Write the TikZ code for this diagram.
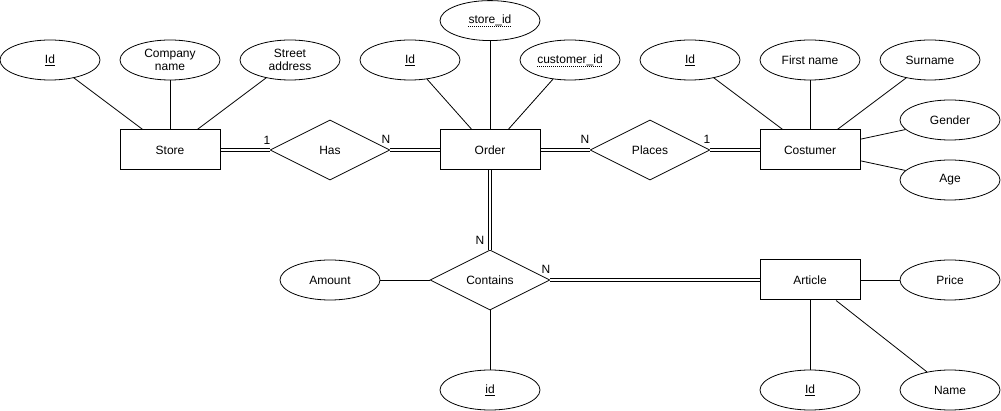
\documentclass[tikz,border=0pt]{standalone}
\usepackage{fontspec}
\setmainfont{Liberation Sans}
\usetikzlibrary{shapes.geometric}
\begin{document}
\begin{tikzpicture}[x=1pt,y=-1pt,
  font=\fontsize{12}{13.5}\selectfont,
  every node/.style={inner sep=0pt},
  ent/.style={draw, rectangle, line width=1pt, minimum width=100pt, minimum height=40pt},
  attr/.style={draw, ellipse, line width=0.8pt, minimum width=100pt, minimum height=40pt, align=center},
  rel/.style={draw, diamond, aspect=2, line width=0.8pt, minimum width=120pt, minimum height=60pt},
  card/.style={font=\fontsize{12}{13.5}\selectfont},
  link/.style={draw, line width=0.8pt},
  dotline/.style={draw, line width=0.8pt, dash pattern=on 1pt off 1pt},
  dlink/.style={draw, double, line width=0.9pt, double distance=2.3pt}]
\useasboundingbox[fill=white] (0,0) rectangle (1001,411);

% entities
\node[ent] (store) at (170,150) {Store};
\node[ent] (order) at (490,150) {Order};
\node[ent] (cust) at (810,150) {Costumer};
\node[ent] (art) at (810,280) {Article};

% relationships
\node[rel] (has) at (330,150) {Has};
\node[rel] (places) at (650,150) {Places};
\node[rel] (contains) at (490,280) {Contains};

% store attributes
\node[attr] (sid) at (50,60) {\underline{Id}};
\node[attr] (scomp) at (170,60) {Company\\name};
\node[attr] (sstreet) at (290,60) {Street\\address};

% order attributes
\node[attr] (oid) at (410,60) {\underline{Id}};
\node[attr] (ostore) at (490,20.6) {};
\node (ostoreT) at (490,20) {store\_id};
\node[attr] (ocust) at (570,60) {};
\node (ocustT) at (570,60) {customer\_id};
\path[dotline] ([yshift=-3pt]ostoreT.base west) -- ([yshift=-3pt]ostoreT.base east);
\path[dotline] ([yshift=-3pt]ocustT.base west) -- ([yshift=-3pt]ocustT.base east);

% customer attributes
\node[attr] (cid) at (690,60) {\underline{Id}};
\node[attr] (cfirst) at (810,60) {First name};
\node[attr] (csur) at (930,60) {Surname};
\node[attr] (cgen) at (950,120) {Gender};
\node[attr] (cage) at (950,180) {Age};

% article attributes
\node[attr] (aprice) at (950,280) {Price};
\node[attr] (aid) at (810,390) {\underline{Id}};
\node[attr] (aname) at (950,390) {Name};

% contains attributes
\node[attr] (amount) at (330,280) {Amount};
\node[attr] (cnid) at (490,390) {\underline{id}};

% attribute links
\path[link] (sid) -- (store);
\path[link] (scomp) -- (store);
\path[link] (sstreet) -- (store);
\path[link] (oid) -- (order);
\path[link] (ostore) -- (order);
\path[link] (ocust) -- (order);
\path[link] (cid) -- (cust);
\path[link] (cfirst) -- (cust);
\path[link] (csur) -- (cust);
\path[link] (cgen) -- (cust);
\path[link] (cage) -- (cust);
\path[link] (aprice) -- (art);
\path[link] (aid) -- (art);
\path[link] (aname) -- (art);
\path[link] (amount) -- (contains);
\path[link] (cnid) -- (contains);

% relationship links
\path[dlink] (store) -- (has);
\path[dlink] (has) -- (order);
\path[dlink] (order) -- (places);
\path[dlink] (places) -- (cust);
\path[dlink] (order) -- (contains);
\path[dlink] (contains) -- (art);

% cardinalities
\node[card] (c1) at (267,140) {1};
\node[card] (c2) at (386,139) {N};
\node[card] (c3) at (585,139) {N};
\node[card] (c4) at (707,139) {1};
\node[card] (c5) at (480,240) {N};
\node[card] (c6) at (546,269) {N};
\end{tikzpicture}
\end{document}
